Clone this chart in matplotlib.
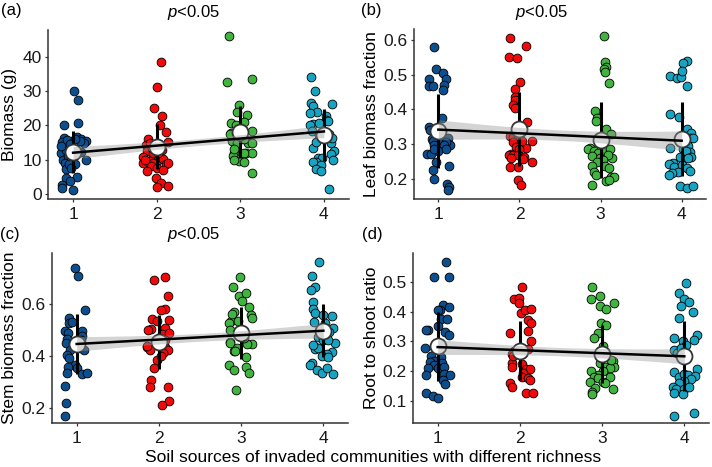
import numpy as np
import matplotlib.pyplot as plt

plt.rcParams['font.family'] = ['Liberation Sans', 'DejaVu Sans']
plt.rcParams['mathtext.fontset'] = 'custom'
plt.rcParams['mathtext.rm'] = 'Liberation Sans'
plt.rcParams['mathtext.it'] = 'Liberation Sans:italic'

groups = [1, 2, 3, 4]
group_colors = ['#0C4E8E', '#F20A0A', '#3FB43F', '#17A3C2']
xlabel = 'Soil sources of invaded communities with different richness'

# (a) Biomass (g)
biomass_y = [
    [30.0, 27.3, 20.1, 20.7, 16.4, 16.7, 16.0, 15.3, 15.1, 15.8, 14.8, 12.0, 12.8, 9.9, 9.9, 10.9,
     8.9, 7.3, 8.6, 4.8, 4.6, 3.8, 2.6, 1.7, 1.2, 15.3, 8.6, 12.3, 7.6, 14.0, 16.0, 14.5],
    [38.4, 31.2, 25.0, 22.7, 20.0, 18.0, 16.0, 15.0, 14.3, 12.4, 10.8, 10.5, 10.0, 10.2, 8.9, 9.0,
     8.8, 8.9, 8.0, 7.5, 6.7, 4.6, 3.3, 2.0, 2.3, 11.8, 12.8, 14.8, 12.0, 9.8, 7.0, 13.3],
    [46.1, 32.7, 33.5, 25.9, 24.0, 23.0, 20.8, 20.9, 20.2, 18.4, 17.8, 15.3, 14.8, 14.8, 14.8, 12.0,
     12.0, 11.8, 11.0, 12.0, 9.6, 9.4, 10.0, 6.2, 16.1, 16.9, 17.5, 19.0, 13.0],
    [34.0, 29.9, 26.4, 25.7, 26.2, 24.0, 23.5, 22.8, 21.5, 21.2, 20.4, 20.6, 20.0, 18.3, 17.6, 17.2,
     14.8, 13.5, 12.5, 11.6, 10.5, 10.6, 9.3, 9.3, 9.9, 8.5, 7.2, 6.7, 1.4, 16.2, 15.0],
]
biomass_dx = [
    [0.01, 0.06, -0.11, 0.06, -0.11, 0.05, 0.10, 0.15, -0.13, -0.07, 0.13, -0.14, -0.09, 0.15, -0.12, -0.06,
     -0.10, -0.08, 0.02, 0.05, -0.09, -0.04, -0.13, -0.13, 0.00, 0.08, -0.05, 0.10, -0.03, -0.14, 0.02, -0.04],
    [0.05, 0.00, -0.03, 0.06, 0.04, 0.11, -0.10, 0.13, -0.13, -0.12, -0.16, -0.04, 0.02, 0.08, -0.16, -0.05,
     0.11, 0.13, -0.07, 0.00, -0.11, -0.01, 0.05, 0.00, 0.14, -0.04, 0.06, -0.08, 0.01, -0.14, 0.07, -0.06],
    [-0.13, -0.16, 0.14, -0.02, -0.04, 0.08, -0.11, 0.05, -0.05, 0.14, -0.11, -0.10, -0.04, 0.09, 0.14, 0.07,
     0.14, -0.08, -0.09, 0.04, -0.01, 0.04, -0.07, 0.14, 0.05, -0.01, -0.12, 0.02, -0.07],
    [-0.15, -0.11, -0.15, -0.13, 0.10, -0.08, -0.17, 0.02, 0.03, 0.05, -0.13, -0.06, -0.17, -0.14, 0.06, -0.06,
     0.09, -0.13, 0.12, 0.08, -0.07, -0.02, -0.09, -0.13, 0.11, -0.03, -0.10, -0.03, 0.06, 0.10, -0.10],
]
biomass_mean = [12.3, 13.8, 18.0, 17.2]
biomass_sd = [6.1, 6.5, 7.5, 7.5]
biomass_fit = [12.0, 18.2]
biomass_ci = [1.8, 1.0]

# (b) Leaf biomass fraction
leaf_y = [
    [0.579, 0.518, 0.506, 0.487, 0.487, 0.468, 0.468, 0.470, 0.456, 0.376, 0.350, 0.318, 0.315, 0.310, 0.310, 0.298,
     0.305, 0.297, 0.297, 0.280, 0.286, 0.271, 0.271, 0.285, 0.248, 0.237, 0.227, 0.200, 0.185, 0.176, 0.167, 0.340],
    [0.605, 0.584, 0.550, 0.547, 0.480, 0.460, 0.437, 0.428, 0.413, 0.403, 0.365, 0.325, 0.320, 0.322, 0.310, 0.305,
     0.293, 0.290, 0.310, 0.272, 0.285, 0.270, 0.270, 0.268, 0.263, 0.260, 0.258, 0.249, 0.235, 0.235, 0.198, 0.183],
    [0.612, 0.536, 0.523, 0.516, 0.509, 0.475, 0.397, 0.376, 0.366, 0.344, 0.330, 0.290, 0.285, 0.280, 0.280, 0.285,
     0.275, 0.260, 0.270, 0.265, 0.260, 0.253, 0.250, 0.238, 0.238, 0.232, 0.220, 0.210, 0.205, 0.205, 0.182, 0.195, 0.198],
    [0.540, 0.533, 0.497, 0.490, 0.495, 0.510, 0.468, 0.388, 0.378, 0.345, 0.332, 0.318, 0.321, 0.318, 0.288, 0.295,
     0.287, 0.277, 0.279, 0.262, 0.264, 0.259, 0.245, 0.242, 0.235, 0.240, 0.231, 0.224, 0.221, 0.217, 0.212, 0.180, 0.175, 0.180],
]
leaf_dx = [
    [-0.05, -0.03, 0.06, -0.11, 0.09, -0.12, -0.06, 0.07, 0.06, 0.04, -0.12, 0.12, -0.08, -0.07, 0.05, 0.14,
     0.09, -0.05, 0.07, -0.01, 0.09, -0.14, -0.09, -0.05, -0.03, 0.13, -0.07, -0.05, 0.11, 0.13, 0.12, -0.10],
    [-0.12, 0.08, -0.13, -0.03, 0.01, -0.06, -0.06, -0.06, -0.08, -0.06, 0.09, -0.12, -0.08, -0.02, 0.15, -0.08,
     -0.04, 0.08, 0.03, -0.10, 0.00, -0.13, -0.08, -0.02, 0.06, -0.11, 0.04, 0.15, -0.02, -0.12, -0.02, 0.02],
    [0.04, 0.05, 0.07, 0.04, 0.06, 0.11, -0.07, -0.05, -0.06, 0.07, 0.13, -0.13, -0.15, -0.08, 0.05, 0.12,
     -0.03, 0.14, 0.09, -0.10, -0.01, 0.03, -0.05, -0.11, 0.05, 0.10, -0.08, -0.06, 0.13, 0.16, -0.10, 0.07, 0.11],
    [0.06, 0.02, -0.14, -0.06, -0.01, 0.00, 0.06, -0.14, -0.03, 0.06, 0.12, 0.10, 0.04, 0.14, -0.14, 0.08,
     0.02, 0.10, 0.05, -0.02, 0.11, 0.08, -0.11, -0.16, -0.10, 0.00, 0.06, 0.10, -0.04, -0.12, -0.16, -0.02, 0.06, 0.14],
]
leaf_mean = [0.338, 0.343, 0.312, 0.314]
leaf_sd = [0.108, 0.107, 0.109, 0.107]
leaf_fit = [0.342, 0.310]
leaf_ci = [0.028, 0.015]

# (c) Stem biomass fraction
stem_y = [
    [0.737, 0.709, 0.577, 0.547, 0.528, 0.529, 0.496, 0.487, 0.497, 0.477, 0.464, 0.449, 0.423, 0.432, 0.423, 0.404,
     0.391, 0.365, 0.353, 0.358, 0.336, 0.330, 0.334, 0.285, 0.218, 0.170, 0.450, 0.460],
    [0.692, 0.705, 0.631, 0.580, 0.577, 0.538, 0.542, 0.535, 0.504, 0.509, 0.500, 0.485, 0.487, 0.436, 0.423, 0.436,
     0.423, 0.410, 0.385, 0.400, 0.353, 0.308, 0.280, 0.282, 0.228, 0.211, 0.440, 0.462],
    [0.703, 0.667, 0.632, 0.641, 0.613, 0.590, 0.570, 0.558, 0.545, 0.535, 0.528, 0.535, 0.500, 0.455, 0.449, 0.446,
     0.446, 0.432, 0.419, 0.394, 0.420, 0.365, 0.346, 0.359, 0.333, 0.269, 0.468, 0.563],
    [0.762, 0.709, 0.664, 0.654, 0.609, 0.580, 0.564, 0.554, 0.559, 0.532, 0.526, 0.506, 0.491, 0.472, 0.462, 0.436,
     0.427, 0.430, 0.451, 0.462, 0.442, 0.417, 0.408, 0.400, 0.372, 0.365, 0.346, 0.333, 0.355, 0.331, 0.395],
]
stem_dx = [
    [-0.02, 0.02, 0.10, -0.09, -0.09, -0.06, -0.14, -0.10, 0.07, 0.07, -0.12, -0.13, -0.08, 0.05, 0.09, -0.12,
     -0.09, -0.02, 0.01, -0.10, -0.12, 0.07, 0.13, -0.14, -0.13, -0.14, -0.04, 0.05],
    [-0.06, 0.07, 0.11, 0.07, 0.02, 0.12, -0.08, -0.02, -0.10, 0.08, -0.13, 0.04, 0.12, -0.14, -0.11, 0.08,
     0.11, 0.05, -0.02, 0.02, -0.06, -0.10, -0.11, 0.11, 0.12, 0.04, -0.14, 0.07],
    [-0.01, -0.10, -0.03, 0.06, 0.01, 0.10, -0.09, 0.12, 0.13, -0.12, -0.15, -0.04, -0.13, -0.13, -0.14, 0.13,
     0.07, -0.05, -0.09, 0.06, -0.08, -0.15, -0.09, 0.06, 0.09, -0.06, 0.03, -0.11],
    [-0.05, -0.14, -0.10, -0.15, -0.12, -0.12, -0.10, 0.11, 0.00, -0.11, 0.02, 0.12, 0.07, -0.06, -0.01, -0.10,
     -0.10, -0.06, 0.14, 0.06, -0.13, 0.10, 0.05, -0.02, -0.14, -0.16, -0.08, -0.02, 0.04, 0.12, 0.06],
]
stem_mean = [0.446, 0.453, 0.487, 0.497]
stem_sd = [0.117, 0.105, 0.100, 0.103]
stem_fit = [0.446, 0.497]
stem_ci = [0.028, 0.015]

# (d) Root to shoot ratio
root_y = [
    [0.567, 0.518, 0.518, 0.423, 0.417, 0.406, 0.404, 0.376, 0.376, 0.353, 0.339, 0.337, 0.333, 0.320, 0.277, 0.251,
     0.249, 0.235, 0.232, 0.229, 0.221, 0.210, 0.210, 0.213, 0.187, 0.190, 0.187, 0.171, 0.156, 0.128, 0.118, 0.109, 0.280],
    [0.484, 0.442, 0.447, 0.428, 0.395, 0.406, 0.409, 0.372, 0.363, 0.336, 0.327, 0.302, 0.269, 0.258, 0.227, 0.213,
     0.224, 0.207, 0.207, 0.193, 0.182, 0.176, 0.171, 0.160, 0.148, 0.126, 0.126, 0.273, 0.250],
    [0.484, 0.443, 0.454, 0.420, 0.408, 0.430, 0.363, 0.355, 0.327, 0.311, 0.283, 0.227, 0.234, 0.213, 0.215, 0.210,
     0.199, 0.187, 0.199, 0.182, 0.182, 0.176, 0.165, 0.165, 0.162, 0.143, 0.140, 0.131, 0.122, 0.236],
    [0.495, 0.464, 0.442, 0.432, 0.419, 0.400, 0.378, 0.320, 0.311, 0.302, 0.305, 0.288, 0.271, 0.260, 0.277, 0.260,
     0.208, 0.196, 0.182, 0.190, 0.187, 0.184, 0.174, 0.167, 0.160, 0.148, 0.140, 0.140, 0.148, 0.128, 0.124, 0.051, 0.059],
]
root_dx = [
    [0.10, -0.05, 0.14, 0.07, 0.14, 0.03, 0.00, 0.04, 0.11, 0.00, -0.12, -0.14, 0.09, 0.14, -0.15, -0.08,
     0.04, -0.04, -0.09, 0.05, -0.04, -0.12, 0.00, 0.08, -0.14, 0.08, 0.15, 0.06, 0.09, -0.14, -0.06, 0.01, -0.04],
    [0.02, -0.07, -0.01, -0.01, 0.01, 0.06, 0.14, 0.10, 0.14, 0.10, -0.12, 0.14, -0.07, -0.10, -0.09, -0.10,
     0.02, 0.08, 0.12, 0.04, 0.02, 0.10, 0.12, -0.12, -0.10, 0.08, 0.16, 0.10, -0.08],
    [-0.12, -0.13, -0.02, -0.03, 0.05, 0.14, -0.01, 0.05, -0.05, -0.10, 0.01, -0.03, 0.13, 0.15, 0.04, 0.10,
     0.01, -0.05, -0.14, -0.10, 0.09, -0.05, -0.15, 0.01, 0.03, -0.09, 0.13, -0.12, -0.12, 0.11],
    [0.02, -0.06, -0.01, 0.06, -0.04, 0.10, -0.06, 0.16, -0.12, -0.02, 0.12, 0.02, -0.12, -0.09, -0.04, 0.00,
     0.15, -0.13, -0.06, -0.01, 0.04, 0.13, 0.08, 0.00, -0.06, -0.14, -0.10, -0.01, 0.06, -0.12, -0.02, -0.13, 0.12],
]
root_mean = [0.283, 0.269, 0.257, 0.252]
root_sd = [0.116, 0.099, 0.098, 0.117]
root_fit = [0.281, 0.250]
root_ci = [0.025, 0.014]

W, H = 712, 467
fig = plt.figure(figsize=(W / 100, H / 100), dpi=100)


def px_axes(left, right, top, bottom):
    return fig.add_axes([left / W, 1 - bottom / H, (right - left) / W, (bottom - top) / H])


def draw_panel(ax, ys, dxs, means, sds, fit, ci, ylim, yticks, ticklabels):
    for g, y, dx, col in zip(groups, ys, dxs, group_colors):
        ax.scatter(g + np.array(dx), y, s=40, c=col, edgecolors='black',
                   linewidths=0.6, zorder=2)
    means = np.array(means)
    sds = np.array(sds)
    ax.vlines(groups, means - sds, means + sds, color='black', lw=2.2, zorder=3)
    ax.plot(groups, means, 'o', ms=11.5, mfc='white', mec='#333333', mew=1.3, zorder=4)
    xs = np.linspace(1, 4, 60)
    line = fit[0] + (fit[1] - fit[0]) * (xs - 1) / 3
    hw = np.sqrt(ci[1] ** 2 + (ci[0] ** 2 - ci[1] ** 2) * ((xs - 2.5) / 1.5) ** 2)
    ax.fill_between(xs, line - hw, line + hw, color='#999999', alpha=0.42, lw=0, zorder=5)
    ax.plot(xs, line, color='black', lw=1.8, zorder=6)

    ax.set_xlim(0.7, 4.3)
    ax.set_ylim(*ylim)
    ax.set_xticks(groups)
    ax.set_yticks(yticks)
    ax.set_yticklabels(ticklabels)
    for s in ['top', 'right']:
        ax.spines[s].set_visible(False)
    for s in ['left', 'bottom']:
        ax.spines[s].set_color('#333333')
        ax.spines[s].set_linewidth(1.1)
    ax.tick_params(direction='out', length=2.5, width=0.9, color='#333333',
                   labelsize=12.5, labelcolor='#1a1a1a')
    ax.tick_params(axis='x', pad=3)
    ax.tick_params(axis='y', pad=2)


ax_a = px_axes(48, 349, 30, 199)
draw_panel(ax_a, biomass_y, biomass_dx, biomass_mean, biomass_sd, biomass_fit, biomass_ci,
           (-1.5, 47.8), [0, 10, 20, 30, 40], ['0', '10', '20', '30', '40'])
ax_b = px_axes(414, 706, 29, 199)
draw_panel(ax_b, leaf_y, leaf_dx, leaf_mean, leaf_sd, leaf_fit, leaf_ci,
           (0.142, 0.632), [0.2, 0.3, 0.4, 0.5, 0.6], ['0.2', '0.3', '0.4', '0.5', '0.6'])
ax_c = px_axes(52, 348, 253, 423)
draw_panel(ax_c, stem_y, stem_dx, stem_mean, stem_sd, stem_fit, stem_ci,
           (0.142, 0.796), [0.2, 0.4, 0.6], ['0.2', '0.4', '0.6'])
ax_d = px_axes(413, 709, 253, 423)
draw_panel(ax_d, root_y, root_dx, root_mean, root_sd, root_fit, root_ci,
           (0.026, 0.597), [0.1, 0.2, 0.3, 0.4, 0.5], ['0.1', '0.2', '0.3', '0.4', '0.5'])


def ftext(x, y, s, **kw):
    fig.text(x / W, 1 - y / H, s, ha='center', va='center', **kw)


ftext(11, 11, '(a)', fontsize=12)
ftext(371, 11, '(b)', fontsize=12)
ftext(10, 235, '(c)', fontsize=12)
ftext(372, 235, '(d)', fontsize=12)

ftext(193, 13, r'$p$<0.05', fontsize=12)
ftext(541, 13, r'$p$<0.05', fontsize=12)
ftext(193, 235, r'$p$<0.05', fontsize=12)

ftext(10, 114, 'Biomass (g)', fontsize=12.5, rotation=90)
ftext(371, 114, 'Leaf biomass fraction', fontsize=12.5, rotation=90)
ftext(10, 338, 'Stem biomass fraction', fontsize=12.5, rotation=90)
ftext(371, 338, 'Root to shoot ratio', fontsize=12.5, rotation=90)

ftext(373, 458, xlabel, fontsize=12.5)

fig.savefig('out.png', dpi=100)
